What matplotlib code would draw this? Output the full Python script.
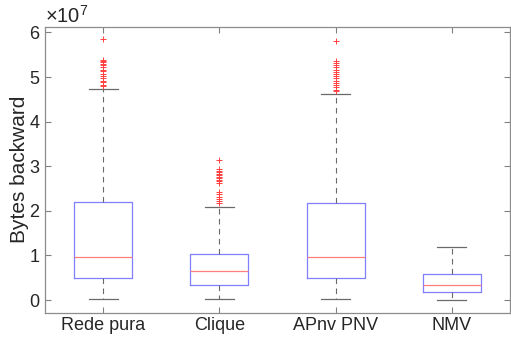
import numpy as np
import matplotlib
matplotlib.use("Agg")
import matplotlib.pyplot as plt
from matplotlib.ticker import ScalarFormatter

plt.rcParams['font.family'] = ['Liberation Sans', 'DejaVu Sans']
plt.rcParams['mathtext.fontset'] = 'custom'
plt.rcParams['mathtext.rm'] = 'Liberation Sans'
plt.rcParams['mathtext.it'] = 'Liberation Sans'

# box statistics (bytes)
labels = ['Rede pura', 'Clique', 'APnv PNV', 'NMV']
q1 = [0.49e7, 0.33e7, 0.49e7, 0.17e7]
med = [0.97e7, 0.645e7, 0.96e7, 0.33e7]
q3 = [2.195e7, 1.04e7, 2.17e7, 0.59e7]
whislo = [0.02e7, 0.02e7, 0.02e7, 0.0e7]
whishi = [4.74e7, 2.09e7, 4.61e7, 1.18e7]

# outliers (approximate, x1e7)
fliers_rede = [4.79, 4.83, 4.88, 4.92, 4.97, 5.02, 5.08, 5.13, 5.17, 5.22, 5.26,
               5.30, 5.33, 5.36, 5.39, 5.85]
fliers_clique = [2.18, 2.22, 2.27, 2.32, 2.38, 2.43, 2.62, 2.66, 2.70, 2.73, 2.76,
                 2.80, 2.83, 2.86, 2.90, 2.94, 3.15]
fliers_apnv = [4.68, 4.72, 4.77, 4.82, 4.87, 4.92, 4.97, 5.02, 5.07, 5.12, 5.17,
               5.22, 5.27, 5.31, 5.36, 5.82]
fliers_nmv = []

fliers = [np.array(f) * 1e7 for f in (fliers_rede, fliers_clique, fliers_apnv, fliers_nmv)]

stats = []
for i in range(len(labels)):
    stats.append(dict(label=labels[i], q1=q1[i], med=med[i], q3=q3[i],
                      whislo=whislo[i], whishi=whishi[i], fliers=fliers[i]))

fig = plt.figure(figsize=(5.11, 3.43), dpi=100)
ax = fig.add_axes([45 / 511, 1 - 312.5 / 343, (510 - 45) / 511, (312.5 - 26.7) / 343])

ax.bxp(stats, widths=0.5, showfliers=True,
       boxprops=dict(color='#7f7fff', linewidth=0.9),
       medianprops=dict(color='#ff7f7f', linewidth=0.9),
       whiskerprops=dict(color='#6a6a6a', linestyle=(0, (5, 4)), linewidth=0.8),
       capprops=dict(color='#6a6a6a', linewidth=0.9),
       flierprops=dict(marker='+', markeredgecolor='#ff4040', markersize=5,
                       markeredgewidth=0.7, linestyle='none'))

ax.set_xlim(0.5, 4.5)
ax.set_ylim(-0.28e7, 6.13e7)
ax.set_yticks(np.arange(0, 7) * 1e7)

fmt = ScalarFormatter(useMathText=True)
fmt.set_powerlimits((0, 0))
ax.yaxis.set_major_formatter(fmt)
ax.yaxis.get_offset_text().set_fontsize(14.5)
ax.yaxis.get_offset_text().set_color('#262626')

ax.set_ylabel('Bytes backward', fontsize=15, color='#262626', labelpad=0)
ax.tick_params(direction='in', top=True, right=True, length=4, width=0.8,
               colors='#808080', labelcolor='#262626', labelsize=13)
for s in ax.spines.values():
    s.set_color('#8c8c8c')
    s.set_linewidth(0.9)

fig.savefig('out.png', dpi=100)
